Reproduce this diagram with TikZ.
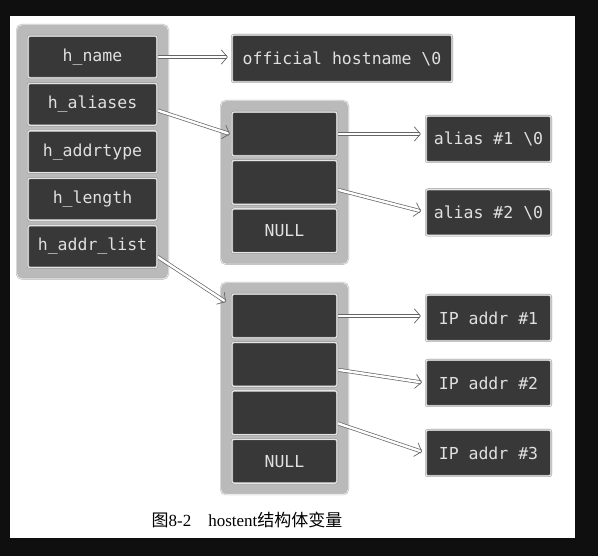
\documentclass[tikz,border=0pt]{standalone}
\usepackage{fontspec}
\setmainfont{Liberation Serif}
\setmonofont{DejaVu Sans Mono}
\newfontfamily\cjk{Noto Sans CJK SC}
\usetikzlibrary{positioning,fit,backgrounds,arrows.meta}
\pgfdeclarelayer{links}
\pgfsetlayers{background,links,main}

\tikzset{
  cell/.style={draw=black!45, double=white!90!black, double distance=1.2pt,
    fill=black!78, text=white!88!black, rounded corners=2pt, inner sep=0pt,
    font=\ttfamily\fontsize{16.5}{17}\selectfont},
  field/.style={cell, minimum width=129pt, minimum height=42pt},
  slot/.style={cell, minimum width=105pt, minimum height=44pt},
  strbox/.style={cell, minimum width=125pt, minimum height=46pt},
  panel/.style={draw=black!30, double=white!92!black, double distance=0.8pt,
    fill=black!27, rounded corners=5pt, inner sep=11pt},
  tipbarb/.tip={Straight Barb[length=6pt, width=14pt, line join=round, line cap=round]},
  ptr/.style={draw=black!60, double=white, double distance=2.4pt,
    line width=0.7pt, line join=round, -tipbarb},
}

\begin{document}
\begin{tikzpicture}[x=1pt, y=-1pt, node distance=5pt]
  % struct hostent
  \node[field] (hname) at (92.5,57) {h\_name};
  \node[field, below=of hname] (halias) {h\_aliases};
  \node[field, below=of halias] (htype) {h\_addrtype};
  \node[field, below=of htype] (hlen) {h\_length};
  \node[field, below=of hlen] (haddr) {h\_addr\_list};

  % h_aliases array
  \node[slot] (al1) at (284.5,134) {};
  \node[slot, below=4pt of al1] (al2) {};
  \node[slot, below=4pt of al2] (alnull) {NULL};

  % h_addr_list array
  \node[slot] (ip1) at (284.5,316) {};
  \node[slot, below=4pt of ip1] (ip2) {};
  \node[slot, below=4pt of ip2] (ip3) {};
  \node[slot, below=4pt of ip3] (ipnull) {NULL};

  % strings
  \node[cell, minimum width=220pt, minimum height=47pt] (official) at (342,58.5)
    {official hostname \textbackslash0};
  \node[strbox] (alias1) at (488.5,139) {alias \#1 \textbackslash0};
  \node[strbox] (alias2) at (488.5,212.5) {alias \#2 \textbackslash0};
  \node[strbox] (addr1) at (488.5,318) {IP addr \#1};
  \node[strbox] (addr2) at (488.5,383) {IP addr \#2};
  \node[strbox] (addr3) at (488.5,453) {IP addr \#3};

  \node[font=\fontsize{17}{17}\selectfont] (caption) at (247,520)
    {{\cjk 图}8-2\quad hostent{\cjk 结构体变量}};

  % pointers, under the cells
  \begin{pgfonlayer}{links}
    \draw[ptr, shorten >=4pt] ([xshift=-8pt]hname.east) -- (hname.east -| official.west);
    \draw[ptr] ([xshift=-18pt]halias.east) -- ([xshift=-2pt]al1.west);
    \draw[ptr] ([xshift=-6pt,yshift=-6pt]haddr.east) -- ([xshift=-6pt,yshift=-8pt]ip1.north west);
    \draw[ptr, shorten >=5pt] ([xshift=25pt]al1.center) -- (al1.center -| alias1.west);
    \draw[ptr, shorten >=5pt] ([xshift=25pt]al2.center) -- (alias2.west);
    \draw[ptr, shorten >=5pt] ([xshift=25pt]ip1.center) -- (ip1.center -| addr1.west);
    \draw[ptr, shorten >=4pt] ([xshift=18pt]ip2.center) -- (addr2.west);
    \draw[ptr, shorten >=4pt] ([xshift=22pt]ip3.center) -- (addr3.west);
  \end{pgfonlayer}

  \begin{scope}[on background layer]
    \fill[black!94] (0,0) rectangle (598,556);
    \fill[white] (10,16) rectangle (575,538);
    \node[panel, fit=(hname)(haddr)] (hostent) {};
    \node[panel, fit=(al1)(alnull)] (aliases) {};
    \node[panel, fit=(ip1)(ipnull)] (addrs) {};
  \end{scope}
\end{tikzpicture}
\end{document}
